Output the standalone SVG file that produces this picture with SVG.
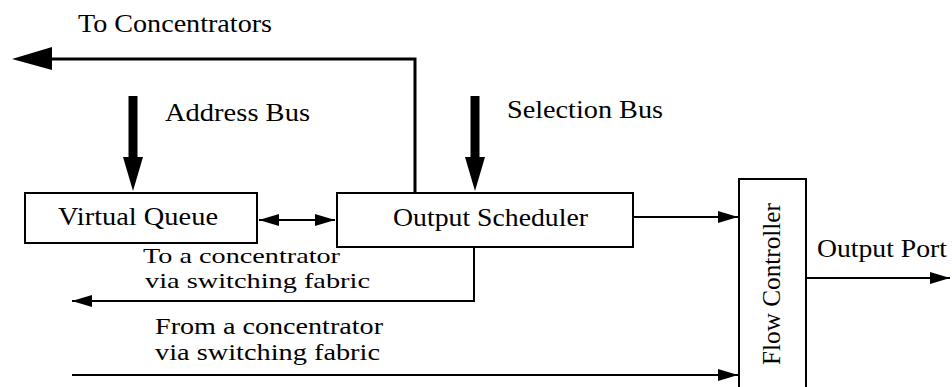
<svg xmlns="http://www.w3.org/2000/svg" width="952" height="387" viewBox="0 0 952 387">
<defs>
<style>
text{font-family:"Liberation Serif","Times New Roman",serif;font-size:26px;fill:#000}
text.sm{font-size:24px}
text.xs{font-size:22px}
.box{fill:#fff;stroke:#000;stroke-width:2}
.ln{fill:none;stroke:#000;stroke-width:2}
.thick{fill:none;stroke:#000;stroke-width:3}
.bus{fill:none;stroke:#000;stroke-width:9}
</style>
<marker id="ah" markerUnits="userSpaceOnUse" markerWidth="22" markerHeight="14" refX="20" refY="6" orient="auto">
<path d="M0,0 L20,6 L0,12 Z" fill="#000"/>
</marker>
<marker id="ahs" markerUnits="userSpaceOnUse" markerWidth="22" markerHeight="14" refX="20" refY="6" orient="auto-start-reverse">
<path d="M0,0 L20,6 L0,12 Z" fill="#000"/>
</marker>
</defs>
<g id="connectors">
<polyline class="thick" points="415,193 415,59 50,59"/>
<polygon points="12,59 52,47 52,70" fill="#000"/>
<line class="bus" x1="133" y1="96" x2="133" y2="160"/>
<polygon points="123,157 143,157 133,191" fill="#000"/>
<line class="bus" x1="475" y1="96" x2="475" y2="160"/>
<polygon points="465,157 485,157 475,191" fill="#000"/>
<line class="ln" x1="259" y1="220" x2="335" y2="220" marker-start="url(#ahs)" marker-end="url(#ahs)"/>
<line class="ln" x1="633" y1="217" x2="738" y2="217" marker-end="url(#ah)"/>
<polyline class="ln" points="474,247 474,301 72,301" marker-end="url(#ah)"/>
<line class="ln" x1="72" y1="375" x2="738" y2="375" marker-end="url(#ah)"/>
<line class="ln" x1="806" y1="278" x2="950" y2="278" marker-end="url(#ah)"/>
</g>
<g id="virtual-queue">
<rect class="box" x="25" y="193" width="232" height="50"/>
<text x="58" y="225" textLength="160" lengthAdjust="spacingAndGlyphs">Virtual Queue</text>
</g>
<g id="output-scheduler">
<rect class="box" x="337" y="193" width="296" height="54"/>
<text x="393" y="226" textLength="195" lengthAdjust="spacingAndGlyphs">Output Scheduler</text>
</g>
<g id="flow-controller">
<rect class="box" x="739" y="179" width="67" height="215"/>
<text transform="translate(780,365) rotate(-90)" textLength="162" lengthAdjust="spacingAndGlyphs">Flow Controller</text>
</g>
<g id="labels">
<text x="78" y="32" textLength="194" lengthAdjust="spacingAndGlyphs">To Concentrators</text>
<text x="165" y="121" textLength="145" lengthAdjust="spacingAndGlyphs">Address Bus</text>
<text x="507" y="118" textLength="156" lengthAdjust="spacingAndGlyphs">Selection Bus</text>
<text x="817" y="257" textLength="130" lengthAdjust="spacingAndGlyphs">Output Port</text>
<text class="xs" x="143" y="263" textLength="197" lengthAdjust="spacingAndGlyphs">To a concentrator</text>
<text class="xs" x="145" y="288" textLength="225" lengthAdjust="spacingAndGlyphs">via switching fabric</text>
<text class="sm" x="155" y="334" textLength="228" lengthAdjust="spacingAndGlyphs">From a concentrator</text>
<text class="sm" x="155" y="360" textLength="225" lengthAdjust="spacingAndGlyphs">via switching fabric</text>
</g>
</svg>
